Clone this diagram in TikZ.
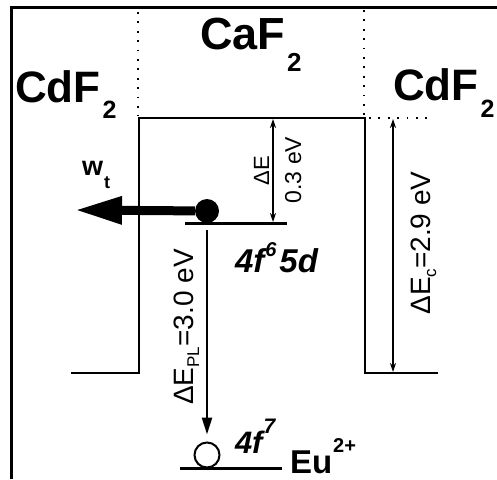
\documentclass[tikz,border=0pt]{standalone}
\usepackage{fontspec}
\setmainfont{Liberation Sans}
\usetikzlibrary{arrows.meta}
\newcommand\fs[1]{\fontsize{#1}{#1}\selectfont}
\newcommand\lowsub[3]{\raisebox{-#1}{\fs{#2}#3}}
\newcommand\highsup[3]{\raisebox{#1}{\fs{#2}#3}}
\begin{document}
\begin{tikzpicture}[x=1pt,y=-1pt,
  lbl/.style={inner sep=0pt, outer sep=0pt, anchor=base west},
  rlbl/.style={inner sep=0pt, outer sep=0pt, anchor=base, rotate=90},
  wall/.style={line width=2pt},
  framel/.style={line width=3pt},
  dots/.style={line width=2pt, dash pattern=on 1.8pt off 7.6pt},
  level/.style={line width=3pt},
  thinarr/.style={line width=1.3pt, {Stealth[length=9pt,width=6pt]}-{Stealth[length=9pt,width=6pt]}},
]
\useasboundingbox (0,0) rectangle (497,479);
% frame
\draw[framel] (11.5,479) -- (11.5,7) -- (497,7);
% dotted boundaries
\draw[dots] (138,12) -- (138,116);
\draw[dots] (364,10) -- (364,116);
\draw[dots] (369,118) -- (430,118);
% quantum well
\draw[wall] (71,373) -- (139,373) -- (139,118) -- (365,118) -- (365,373) -- (438,373);
% arrows Delta E_c and Delta E
\coordinate (ectop) at (393,119);
\coordinate (ecbot) at (393,372);
\draw[thinarr] (ectop) -- (ecbot);
\coordinate (detop) at (273,119);
\coordinate (debot) at (273,222);
\draw[thinarr] (detop) -- (debot);
% excited level and electron
\coordinate (exl) at (185,223);
\coordinate (exr) at (287,223);
\draw[level] (exl) -- (exr);
\node[circle, fill=black, minimum size=24pt, inner sep=0pt] (ball) at (207,211) {};
\coordinate (wtip) at (75,210);
\draw[line width=9pt, -{Triangle[length=47pt,width=26pt]}] (ball) -- (wtip);
% ground level
\coordinate (gl) at (180,468);
\coordinate (gr) at (282,468);
\draw[level] (gl) -- (gr);
\node[circle, draw=black, line width=2pt, minimum size=25pt, inner sep=0pt] (gs) at (207,455) {};
\coordinate (plstart) at (207,230);
\draw[line width=2.5pt, -{Triangle[length=17pt,width=10pt]}, shorten >=7pt] (plstart) -- (gs);
% labels
\node[lbl, font=\bfseries\fs{45}] (caf) at (200,49) {CaF\kern2pt\lowsub{22pt}{26}{2}};
\node[lbl, font=\bfseries\fs{44}] (cdfl) at (15,102) {CdF\kern2pt\lowsub{16pt}{25}{2}};
\node[lbl, font=\bfseries\fs{44}] (cdfr) at (393,100) {CdF\kern2pt\lowsub{17pt}{25}{2}};
\node[lbl, font=\bfseries\fs{27}] (wt) at (82,175) {w\kern1pt\lowsub{13pt}{18}{t}};
\node[lbl, font=\bfseries\itshape\fs{33}] (exc) at (235,272) {4f\kern1pt\highsup{16pt}{20}{6}\kern3pt5d};
\node[lbl, font=\bfseries\itshape\fs{31}] (gnd) at (235,453) {4f\kern1pt\highsup{20pt}{21}{7}};
\node[lbl, font=\bfseries\fs{33}] (eu) at (290,473) {Eu\kern1pt\highsup{21pt}{20}{2+}};
\node[rlbl, font=\fs{28}] (depl) at (193,327) {ΔE\lowsub{6pt}{17}{PL}=3.0 eV};
\node[rlbl, font=\fs{28}] (dec) at (430,243) {ΔE\lowsub{6pt}{17}{c}=2.9 eV};
\node[rlbl, font=\fs{22}] (de) at (269,171) {ΔE};
\node[rlbl, font=\fs{23}] (dev) at (301,170) {0.3 eV};
\end{tikzpicture}
\end{document}
